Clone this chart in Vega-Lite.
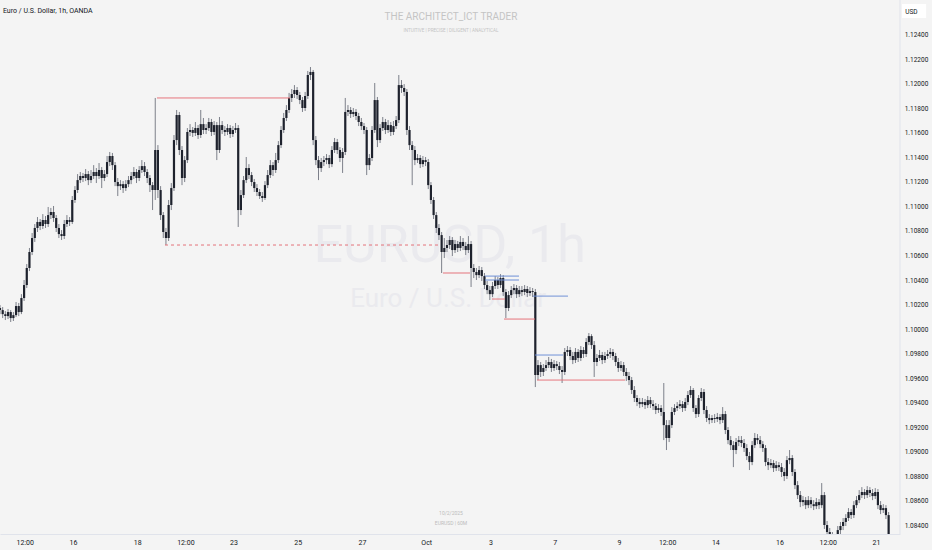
{
"$schema":"https://vega.github.io/schema/vega-lite/v6.json",
"width":900,"height":534,"autosize":"none","padding":{"left":0,"top":0,"right":32,"bottom":16},
"background":"#f4f4f4",
"config":{"view":{"stroke":null},"font":"Roboto"},
"datasets":{
"candles":[
{"t":0,"o":1.10176,"h":1.10200,"l":1.10126,"c":1.10159},
{"t":2,"o":1.10159,"h":1.10184,"l":1.10094,"c":1.10126},
{"t":4,"o":1.10126,"h":1.10151,"l":1.10078,"c":1.10110},
{"t":6,"o":1.10110,"h":1.10168,"l":1.10086,"c":1.10143},
{"t":8,"o":1.10143,"h":1.10159,"l":1.10062,"c":1.10094},
{"t":10,"o":1.10094,"h":1.10143,"l":1.10070,"c":1.10118},
{"t":12,"o":1.10118,"h":1.10225,"l":1.10102,"c":1.10192},
{"t":14,"o":1.10192,"h":1.10217,"l":1.10110,"c":1.10143},
{"t":16,"o":1.10143,"h":1.10289,"l":1.10126,"c":1.10257},
{"t":18,"o":1.10257,"h":1.10404,"l":1.10233,"c":1.10363},
{"t":20,"o":1.10363,"h":1.10534,"l":1.10339,"c":1.10502},
{"t":22,"o":1.10502,"h":1.10665,"l":1.10477,"c":1.10632},
{"t":24,"o":1.10632,"h":1.10787,"l":1.10607,"c":1.10746},
{"t":26,"o":1.10746,"h":1.10860,"l":1.10714,"c":1.10828},
{"t":28,"o":1.10828,"h":1.10917,"l":1.10795,"c":1.10877},
{"t":30,"o":1.10877,"h":1.10901,"l":1.10811,"c":1.10844},
{"t":32,"o":1.10844,"h":1.10941,"l":1.10820,"c":1.10893},
{"t":34,"o":1.10893,"h":1.10925,"l":1.10828,"c":1.10860},
{"t":36,"o":1.10860,"h":1.10999,"l":1.10836,"c":1.10933},
{"t":38,"o":1.10933,"h":1.10991,"l":1.10901,"c":1.10958},
{"t":40,"o":1.10958,"h":1.11007,"l":1.10877,"c":1.10909},
{"t":42,"o":1.10909,"h":1.10933,"l":1.10795,"c":1.10828},
{"t":44,"o":1.10828,"h":1.10860,"l":1.10746,"c":1.10778},
{"t":46,"o":1.10778,"h":1.10811,"l":1.10730,"c":1.10762},
{"t":48,"o":1.10762,"h":1.10893,"l":1.10738,"c":1.10860},
{"t":50,"o":1.10860,"h":1.10933,"l":1.10836,"c":1.10893},
{"t":52,"o":1.10893,"h":1.10917,"l":1.10844,"c":1.10877},
{"t":54,"o":1.10877,"h":1.11088,"l":1.10860,"c":1.11056},
{"t":56,"o":1.11056,"h":1.11169,"l":1.11032,"c":1.11137},
{"t":58,"o":1.11137,"h":1.11267,"l":1.11113,"c":1.11218},
{"t":60,"o":1.11218,"h":1.11284,"l":1.11194,"c":1.11251},
{"t":62,"o":1.11251,"h":1.11276,"l":1.11202,"c":1.11235},
{"t":64,"o":1.11235,"h":1.11308,"l":1.11210,"c":1.11267},
{"t":66,"o":1.11267,"h":1.11292,"l":1.11177,"c":1.11218},
{"t":68,"o":1.11218,"h":1.11300,"l":1.11194,"c":1.11251},
{"t":70,"o":1.11251,"h":1.11340,"l":1.11227,"c":1.11284},
{"t":72,"o":1.11284,"h":1.11316,"l":1.11194,"c":1.11251},
{"t":74,"o":1.11251,"h":1.11357,"l":1.11227,"c":1.11300},
{"t":76,"o":1.11300,"h":1.11324,"l":1.11153,"c":1.11235},
{"t":78,"o":1.11235,"h":1.11300,"l":1.11210,"c":1.11267},
{"t":80,"o":1.11267,"h":1.11414,"l":1.11243,"c":1.11365},
{"t":82,"o":1.11365,"h":1.11447,"l":1.11332,"c":1.11414},
{"t":84,"o":1.11414,"h":1.11439,"l":1.11300,"c":1.11340},
{"t":86,"o":1.11340,"h":1.11365,"l":1.11169,"c":1.11202},
{"t":88,"o":1.11202,"h":1.11235,"l":1.11088,"c":1.11169},
{"t":90,"o":1.11169,"h":1.11218,"l":1.11137,"c":1.11185},
{"t":92,"o":1.11185,"h":1.11210,"l":1.11113,"c":1.11153},
{"t":94,"o":1.11153,"h":1.11218,"l":1.11129,"c":1.11185},
{"t":96,"o":1.11185,"h":1.11251,"l":1.11161,"c":1.11218},
{"t":98,"o":1.11218,"h":1.11284,"l":1.11185,"c":1.11251},
{"t":100,"o":1.11251,"h":1.11324,"l":1.11227,"c":1.11284},
{"t":102,"o":1.11284,"h":1.11308,"l":1.11194,"c":1.11235},
{"t":104,"o":1.11235,"h":1.11332,"l":1.11210,"c":1.11300},
{"t":106,"o":1.11300,"h":1.11381,"l":1.11276,"c":1.11332},
{"t":108,"o":1.11332,"h":1.11365,"l":1.11251,"c":1.11284},
{"t":110,"o":1.11284,"h":1.11308,"l":1.11194,"c":1.11235},
{"t":112,"o":1.11235,"h":1.11259,"l":1.11121,"c":1.11177},
{"t":114,"o":1.11177,"h":1.11202,"l":1.10974,"c":1.11137},
{"t":116,"o":1.11137,"h":1.11887,"l":1.11056,"c":1.11463},
{"t":118,"o":1.11463,"h":1.11503,"l":1.11072,"c":1.11137},
{"t":120,"o":1.11137,"h":1.11169,"l":1.10893,"c":1.10933},
{"t":122,"o":1.10933,"h":1.10958,"l":1.10746,"c":1.10795},
{"t":124,"o":1.10795,"h":1.10828,"l":1.10689,"c":1.10746},
{"t":126,"o":1.10746,"h":1.11056,"l":1.10722,"c":1.11015},
{"t":128,"o":1.11015,"h":1.11194,"l":1.10974,"c":1.11153},
{"t":130,"o":1.11153,"h":1.11585,"l":1.11129,"c":1.11544},
{"t":132,"o":1.11544,"h":1.11789,"l":1.11503,"c":1.11748},
{"t":134,"o":1.11748,"h":1.11773,"l":1.11422,"c":1.11463},
{"t":136,"o":1.11463,"h":1.11495,"l":1.11177,"c":1.11235},
{"t":138,"o":1.11235,"h":1.11414,"l":1.11202,"c":1.11381},
{"t":140,"o":1.11381,"h":1.11642,"l":1.11357,"c":1.11610},
{"t":142,"o":1.11610,"h":1.11674,"l":1.11577,"c":1.11626},
{"t":144,"o":1.11626,"h":1.11650,"l":1.11569,"c":1.11602},
{"t":146,"o":1.11602,"h":1.11691,"l":1.11577,"c":1.11642},
{"t":148,"o":1.11642,"h":1.11666,"l":1.11553,"c":1.11585},
{"t":150,"o":1.11585,"h":1.11789,"l":1.11561,"c":1.11674},
{"t":152,"o":1.11674,"h":1.11724,"l":1.11593,"c":1.11626},
{"t":154,"o":1.11626,"h":1.11674,"l":1.11593,"c":1.11642},
{"t":156,"o":1.11642,"h":1.11724,"l":1.11618,"c":1.11691},
{"t":158,"o":1.11691,"h":1.11716,"l":1.11577,"c":1.11610},
{"t":160,"o":1.11610,"h":1.11699,"l":1.11585,"c":1.11666},
{"t":162,"o":1.11666,"h":1.11691,"l":1.11381,"c":1.11463},
{"t":164,"o":1.11463,"h":1.11732,"l":1.11439,"c":1.11666},
{"t":166,"o":1.11666,"h":1.11699,"l":1.11593,"c":1.11626},
{"t":168,"o":1.11626,"h":1.11658,"l":1.11577,"c":1.11610},
{"t":170,"o":1.11610,"h":1.11674,"l":1.11585,"c":1.11642},
{"t":172,"o":1.11642,"h":1.11666,"l":1.11561,"c":1.11593},
{"t":174,"o":1.11593,"h":1.11658,"l":1.11569,"c":1.11626},
{"t":176,"o":1.11626,"h":1.11683,"l":1.11602,"c":1.11642},
{"t":178,"o":1.11642,"h":1.11666,"l":1.10836,"c":1.10974},
{"t":180,"o":1.10974,"h":1.11137,"l":1.10933,"c":1.11096},
{"t":182,"o":1.11096,"h":1.11251,"l":1.11072,"c":1.11218},
{"t":184,"o":1.11218,"h":1.11406,"l":1.11194,"c":1.11316},
{"t":186,"o":1.11316,"h":1.11348,"l":1.11227,"c":1.11259},
{"t":188,"o":1.11259,"h":1.11284,"l":1.11169,"c":1.11202},
{"t":190,"o":1.11202,"h":1.11227,"l":1.11121,"c":1.11153},
{"t":192,"o":1.11153,"h":1.11185,"l":1.11088,"c":1.11121},
{"t":194,"o":1.11121,"h":1.11145,"l":1.11064,"c":1.11088},
{"t":196,"o":1.11088,"h":1.11121,"l":1.11040,"c":1.11072},
{"t":198,"o":1.11072,"h":1.11210,"l":1.11056,"c":1.11177},
{"t":200,"o":1.11177,"h":1.11300,"l":1.11153,"c":1.11259},
{"t":202,"o":1.11259,"h":1.11381,"l":1.11235,"c":1.11340},
{"t":204,"o":1.11340,"h":1.11365,"l":1.11251,"c":1.11300},
{"t":206,"o":1.11300,"h":1.11439,"l":1.11276,"c":1.11381},
{"t":208,"o":1.11381,"h":1.11536,"l":1.11357,"c":1.11503},
{"t":210,"o":1.11503,"h":1.11658,"l":1.11479,"c":1.11626},
{"t":212,"o":1.11626,"h":1.11765,"l":1.11602,"c":1.11724},
{"t":214,"o":1.11724,"h":1.11829,"l":1.11699,"c":1.11789},
{"t":216,"o":1.11789,"h":1.11928,"l":1.11765,"c":1.11887},
{"t":218,"o":1.11887,"h":1.11960,"l":1.11854,"c":1.11919},
{"t":220,"o":1.11919,"h":1.11992,"l":1.11887,"c":1.11952},
{"t":222,"o":1.11952,"h":1.11976,"l":1.11879,"c":1.11911},
{"t":224,"o":1.11911,"h":1.11936,"l":1.11837,"c":1.11870},
{"t":226,"o":1.11870,"h":1.11895,"l":1.11773,"c":1.11805},
{"t":228,"o":1.11805,"h":1.11936,"l":1.11781,"c":1.11903},
{"t":230,"o":1.11903,"h":1.12107,"l":1.11879,"c":1.12074},
{"t":232,"o":1.12074,"h":1.12139,"l":1.12033,"c":1.12099},
{"t":234,"o":1.12099,"h":1.12115,"l":1.11503,"c":1.11544},
{"t":236,"o":1.11544,"h":1.11577,"l":1.11340,"c":1.11381},
{"t":238,"o":1.11381,"h":1.11414,"l":1.11218,"c":1.11316},
{"t":240,"o":1.11316,"h":1.11398,"l":1.11284,"c":1.11365},
{"t":242,"o":1.11365,"h":1.11414,"l":1.11332,"c":1.11381},
{"t":244,"o":1.11381,"h":1.11430,"l":1.11348,"c":1.11398},
{"t":246,"o":1.11398,"h":1.11422,"l":1.11316,"c":1.11348},
{"t":248,"o":1.11348,"h":1.11495,"l":1.11324,"c":1.11463},
{"t":250,"o":1.11463,"h":1.11561,"l":1.11439,"c":1.11528},
{"t":252,"o":1.11528,"h":1.11553,"l":1.11430,"c":1.11463},
{"t":254,"o":1.11463,"h":1.11487,"l":1.11365,"c":1.11398},
{"t":256,"o":1.11398,"h":1.11479,"l":1.11276,"c":1.11447},
{"t":258,"o":1.11447,"h":1.11887,"l":1.11422,"c":1.11773},
{"t":260,"o":1.11773,"h":1.11829,"l":1.11740,"c":1.11789},
{"t":262,"o":1.11789,"h":1.11813,"l":1.11724,"c":1.11756},
{"t":264,"o":1.11756,"h":1.11805,"l":1.11732,"c":1.11773},
{"t":266,"o":1.11773,"h":1.11797,"l":1.11707,"c":1.11740},
{"t":268,"o":1.11740,"h":1.11765,"l":1.11658,"c":1.11691},
{"t":270,"o":1.11691,"h":1.11724,"l":1.11626,"c":1.11658},
{"t":272,"o":1.11658,"h":1.11683,"l":1.11593,"c":1.11626},
{"t":274,"o":1.11626,"h":1.11650,"l":1.11259,"c":1.11340},
{"t":276,"o":1.11340,"h":1.11430,"l":1.11300,"c":1.11398},
{"t":278,"o":1.11398,"h":1.11658,"l":1.11373,"c":1.11626},
{"t":280,"o":1.11626,"h":1.12009,"l":1.11602,"c":1.11870},
{"t":282,"o":1.11870,"h":1.11895,"l":1.11487,"c":1.11544},
{"t":284,"o":1.11544,"h":1.11674,"l":1.11520,"c":1.11642},
{"t":286,"o":1.11642,"h":1.11732,"l":1.11618,"c":1.11691},
{"t":288,"o":1.11691,"h":1.11716,"l":1.11593,"c":1.11626},
{"t":290,"o":1.11626,"h":1.11707,"l":1.11602,"c":1.11666},
{"t":292,"o":1.11666,"h":1.11691,"l":1.11577,"c":1.11610},
{"t":294,"o":1.11610,"h":1.11699,"l":1.11585,"c":1.11658},
{"t":296,"o":1.11658,"h":1.11740,"l":1.11634,"c":1.11707},
{"t":298,"o":1.11707,"h":1.12074,"l":1.11683,"c":1.11992},
{"t":300,"o":1.11992,"h":1.12033,"l":1.11928,"c":1.11968},
{"t":302,"o":1.11968,"h":1.12000,"l":1.11903,"c":1.11936},
{"t":304,"o":1.11936,"h":1.11960,"l":1.11585,"c":1.11626},
{"t":306,"o":1.11626,"h":1.11658,"l":1.11463,"c":1.11503},
{"t":308,"o":1.11503,"h":1.11536,"l":1.11177,"c":1.11463},
{"t":310,"o":1.11463,"h":1.11495,"l":1.11340,"c":1.11381},
{"t":312,"o":1.11381,"h":1.11430,"l":1.11357,"c":1.11398},
{"t":314,"o":1.11398,"h":1.11422,"l":1.11316,"c":1.11348},
{"t":316,"o":1.11348,"h":1.11414,"l":1.11324,"c":1.11381},
{"t":318,"o":1.11381,"h":1.11406,"l":1.11332,"c":1.11365},
{"t":320,"o":1.11365,"h":1.11390,"l":1.11145,"c":1.11177},
{"t":322,"o":1.11177,"h":1.11202,"l":1.11023,"c":1.11056},
{"t":324,"o":1.11056,"h":1.11080,"l":1.10901,"c":1.10933},
{"t":326,"o":1.10933,"h":1.10958,"l":1.10787,"c":1.10828},
{"t":328,"o":1.10828,"h":1.10860,"l":1.10730,"c":1.10770},
{"t":330,"o":1.10770,"h":1.10795,"l":1.10461,"c":1.10632},
{"t":332,"o":1.10632,"h":1.10746,"l":1.10583,"c":1.10665},
{"t":334,"o":1.10665,"h":1.10730,"l":1.10632,"c":1.10689},
{"t":336,"o":1.10689,"h":1.10762,"l":1.10657,"c":1.10730},
{"t":338,"o":1.10730,"h":1.10754,"l":1.10599,"c":1.10648},
{"t":340,"o":1.10648,"h":1.10730,"l":1.10624,"c":1.10697},
{"t":342,"o":1.10697,"h":1.10722,"l":1.10632,"c":1.10665},
{"t":344,"o":1.10665,"h":1.10762,"l":1.10640,"c":1.10714},
{"t":346,"o":1.10714,"h":1.10746,"l":1.10648,"c":1.10681},
{"t":348,"o":1.10681,"h":1.10714,"l":1.10607,"c":1.10648},
{"t":350,"o":1.10648,"h":1.10762,"l":1.10624,"c":1.10697},
{"t":352,"o":1.10697,"h":1.10722,"l":1.10347,"c":1.10502},
{"t":354,"o":1.10502,"h":1.10534,"l":1.10420,"c":1.10469},
{"t":356,"o":1.10469,"h":1.10502,"l":1.10404,"c":1.10444},
{"t":358,"o":1.10444,"h":1.10518,"l":1.10420,"c":1.10485},
{"t":360,"o":1.10485,"h":1.10510,"l":1.10396,"c":1.10436},
{"t":362,"o":1.10436,"h":1.10461,"l":1.10331,"c":1.10363},
{"t":364,"o":1.10363,"h":1.10396,"l":1.10289,"c":1.10322},
{"t":366,"o":1.10322,"h":1.10355,"l":1.10241,"c":1.10289},
{"t":368,"o":1.10289,"h":1.10388,"l":1.10265,"c":1.10355},
{"t":370,"o":1.10355,"h":1.10436,"l":1.10331,"c":1.10404},
{"t":372,"o":1.10404,"h":1.10428,"l":1.10331,"c":1.10363},
{"t":374,"o":1.10363,"h":1.10452,"l":1.10339,"c":1.10420},
{"t":376,"o":1.10420,"h":1.10444,"l":1.10273,"c":1.10306},
{"t":378,"o":1.10306,"h":1.10331,"l":1.10094,"c":1.10176},
{"t":380,"o":1.10176,"h":1.10314,"l":1.10151,"c":1.10281},
{"t":382,"o":1.10281,"h":1.10355,"l":1.10257,"c":1.10322},
{"t":384,"o":1.10322,"h":1.10371,"l":1.10289,"c":1.10339},
{"t":386,"o":1.10339,"h":1.10363,"l":1.10257,"c":1.10289},
{"t":388,"o":1.10289,"h":1.10355,"l":1.10265,"c":1.10322},
{"t":390,"o":1.10322,"h":1.10355,"l":1.10273,"c":1.10306},
{"t":392,"o":1.10306,"h":1.10363,"l":1.10281,"c":1.10331},
{"t":394,"o":1.10331,"h":1.10355,"l":1.10265,"c":1.10298},
{"t":396,"o":1.10298,"h":1.10347,"l":1.10273,"c":1.10314},
{"t":398,"o":1.10314,"h":1.10339,"l":1.10265,"c":1.10306},
{"t":400,"o":1.10306,"h":1.10331,"l":1.09532,"c":1.09630},
{"t":402,"o":1.09630,"h":1.09752,"l":1.09589,"c":1.09711},
{"t":404,"o":1.09711,"h":1.09736,"l":1.09614,"c":1.09655},
{"t":406,"o":1.09655,"h":1.09719,"l":1.09622,"c":1.09687},
{"t":408,"o":1.09687,"h":1.09752,"l":1.09663,"c":1.09711},
{"t":410,"o":1.09711,"h":1.09777,"l":1.09687,"c":1.09736},
{"t":412,"o":1.09736,"h":1.09761,"l":1.09655,"c":1.09687},
{"t":414,"o":1.09687,"h":1.09752,"l":1.09663,"c":1.09719},
{"t":416,"o":1.09719,"h":1.09744,"l":1.09671,"c":1.09703},
{"t":418,"o":1.09703,"h":1.09736,"l":1.09638,"c":1.09671},
{"t":420,"o":1.09671,"h":1.09703,"l":1.09565,"c":1.09655},
{"t":422,"o":1.09655,"h":1.09850,"l":1.09630,"c":1.09818},
{"t":424,"o":1.09818,"h":1.09866,"l":1.09785,"c":1.09834},
{"t":426,"o":1.09834,"h":1.09858,"l":1.09752,"c":1.09785},
{"t":428,"o":1.09785,"h":1.09818,"l":1.09719,"c":1.09752},
{"t":430,"o":1.09752,"h":1.09850,"l":1.09728,"c":1.09818},
{"t":432,"o":1.09818,"h":1.09842,"l":1.09736,"c":1.09769},
{"t":434,"o":1.09769,"h":1.09866,"l":1.09744,"c":1.09834},
{"t":436,"o":1.09834,"h":1.09858,"l":1.09769,"c":1.09801},
{"t":438,"o":1.09801,"h":1.09931,"l":1.09777,"c":1.09899},
{"t":440,"o":1.09899,"h":1.09972,"l":1.09874,"c":1.09947},
{"t":442,"o":1.09947,"h":1.09963,"l":1.09842,"c":1.09874},
{"t":444,"o":1.09874,"h":1.09907,"l":1.09614,"c":1.09736},
{"t":446,"o":1.09736,"h":1.09801,"l":1.09703,"c":1.09769},
{"t":448,"o":1.09769,"h":1.09834,"l":1.09744,"c":1.09793},
{"t":450,"o":1.09793,"h":1.09818,"l":1.09719,"c":1.09752},
{"t":452,"o":1.09752,"h":1.09818,"l":1.09728,"c":1.09785},
{"t":454,"o":1.09785,"h":1.09834,"l":1.09761,"c":1.09801},
{"t":456,"o":1.09801,"h":1.09850,"l":1.09769,"c":1.09818},
{"t":458,"o":1.09818,"h":1.09842,"l":1.09752,"c":1.09785},
{"t":460,"o":1.09785,"h":1.09810,"l":1.09703,"c":1.09736},
{"t":462,"o":1.09736,"h":1.09769,"l":1.09655,"c":1.09687},
{"t":464,"o":1.09687,"h":1.09744,"l":1.09663,"c":1.09711},
{"t":466,"o":1.09711,"h":1.09736,"l":1.09622,"c":1.09655},
{"t":468,"o":1.09655,"h":1.09687,"l":1.09581,"c":1.09622},
{"t":470,"o":1.09622,"h":1.09655,"l":1.09548,"c":1.09589},
{"t":472,"o":1.09589,"h":1.09614,"l":1.09475,"c":1.09508},
{"t":474,"o":1.09508,"h":1.09540,"l":1.09410,"c":1.09443},
{"t":476,"o":1.09443,"h":1.09467,"l":1.09377,"c":1.09410},
{"t":478,"o":1.09410,"h":1.09443,"l":1.09361,"c":1.09393},
{"t":480,"o":1.09393,"h":1.09443,"l":1.09369,"c":1.09410},
{"t":482,"o":1.09410,"h":1.09435,"l":1.09353,"c":1.09385},
{"t":484,"o":1.09385,"h":1.09459,"l":1.09361,"c":1.09426},
{"t":486,"o":1.09426,"h":1.09451,"l":1.09361,"c":1.09393},
{"t":488,"o":1.09393,"h":1.09426,"l":1.09345,"c":1.09377},
{"t":490,"o":1.09377,"h":1.09402,"l":1.09312,"c":1.09345},
{"t":492,"o":1.09345,"h":1.09393,"l":1.09321,"c":1.09361},
{"t":494,"o":1.09361,"h":1.09385,"l":1.09296,"c":1.09329},
{"t":496,"o":1.09329,"h":1.09565,"l":1.09100,"c":1.09222},
{"t":498,"o":1.09222,"h":1.09263,"l":1.09019,"c":1.09117},
{"t":500,"o":1.09117,"h":1.09263,"l":1.09084,"c":1.09222},
{"t":502,"o":1.09222,"h":1.09369,"l":1.09198,"c":1.09329},
{"t":504,"o":1.09329,"h":1.09393,"l":1.09304,"c":1.09361},
{"t":506,"o":1.09361,"h":1.09410,"l":1.09337,"c":1.09377},
{"t":508,"o":1.09377,"h":1.09426,"l":1.09353,"c":1.09393},
{"t":510,"o":1.09393,"h":1.09418,"l":1.09329,"c":1.09361},
{"t":512,"o":1.09361,"h":1.09443,"l":1.09337,"c":1.09410},
{"t":514,"o":1.09410,"h":1.09500,"l":1.09385,"c":1.09467},
{"t":516,"o":1.09467,"h":1.09540,"l":1.09443,"c":1.09508},
{"t":518,"o":1.09508,"h":1.09524,"l":1.09329,"c":1.09361},
{"t":520,"o":1.09361,"h":1.09385,"l":1.09280,"c":1.09312},
{"t":522,"o":1.09312,"h":1.09467,"l":1.09288,"c":1.09443},
{"t":524,"o":1.09443,"h":1.09524,"l":1.09418,"c":1.09492},
{"t":526,"o":1.09492,"h":1.09516,"l":1.09312,"c":1.09345},
{"t":528,"o":1.09345,"h":1.09377,"l":1.09247,"c":1.09280},
{"t":530,"o":1.09280,"h":1.09312,"l":1.09230,"c":1.09263},
{"t":532,"o":1.09263,"h":1.09304,"l":1.09239,"c":1.09280},
{"t":534,"o":1.09280,"h":1.09312,"l":1.09239,"c":1.09272},
{"t":536,"o":1.09272,"h":1.09321,"l":1.09247,"c":1.09288},
{"t":538,"o":1.09288,"h":1.09312,"l":1.09230,"c":1.09263},
{"t":540,"o":1.09263,"h":1.09369,"l":1.09239,"c":1.09312},
{"t":542,"o":1.09312,"h":1.09337,"l":1.09149,"c":1.09182},
{"t":544,"o":1.09182,"h":1.09206,"l":1.09067,"c":1.09100},
{"t":546,"o":1.09100,"h":1.09133,"l":1.09019,"c":1.09059},
{"t":548,"o":1.09059,"h":1.09092,"l":1.08880,"c":1.09019},
{"t":550,"o":1.09019,"h":1.09117,"l":1.08986,"c":1.09084},
{"t":552,"o":1.09084,"h":1.09133,"l":1.09051,"c":1.09100},
{"t":554,"o":1.09100,"h":1.09133,"l":1.09043,"c":1.09076},
{"t":556,"o":1.09076,"h":1.09109,"l":1.09003,"c":1.09035},
{"t":558,"o":1.09035,"h":1.09067,"l":1.08937,"c":1.08970},
{"t":560,"o":1.08970,"h":1.09003,"l":1.08856,"c":1.08921},
{"t":562,"o":1.08921,"h":1.09092,"l":1.08896,"c":1.09059},
{"t":564,"o":1.09059,"h":1.09158,"l":1.09035,"c":1.09117},
{"t":566,"o":1.09117,"h":1.09149,"l":1.09067,"c":1.09100},
{"t":568,"o":1.09100,"h":1.09133,"l":1.09035,"c":1.09067},
{"t":570,"o":1.09067,"h":1.09092,"l":1.09003,"c":1.09035},
{"t":572,"o":1.09035,"h":1.09059,"l":1.08888,"c":1.08921},
{"t":574,"o":1.08921,"h":1.08954,"l":1.08856,"c":1.08896},
{"t":576,"o":1.08896,"h":1.08946,"l":1.08872,"c":1.08913},
{"t":578,"o":1.08913,"h":1.08937,"l":1.08840,"c":1.08872},
{"t":580,"o":1.08872,"h":1.08929,"l":1.08848,"c":1.08896},
{"t":582,"o":1.08896,"h":1.08921,"l":1.08848,"c":1.08880},
{"t":584,"o":1.08880,"h":1.08913,"l":1.08799,"c":1.08840},
{"t":586,"o":1.08840,"h":1.08872,"l":1.08766,"c":1.08807},
{"t":588,"o":1.08807,"h":1.08970,"l":1.08783,"c":1.08937},
{"t":590,"o":1.08937,"h":1.09019,"l":1.08904,"c":1.08954},
{"t":592,"o":1.08954,"h":1.08978,"l":1.08807,"c":1.08840},
{"t":594,"o":1.08840,"h":1.08864,"l":1.08701,"c":1.08733},
{"t":596,"o":1.08733,"h":1.08766,"l":1.08620,"c":1.08652},
{"t":598,"o":1.08652,"h":1.08685,"l":1.08554,"c":1.08595},
{"t":600,"o":1.08595,"h":1.08644,"l":1.08562,"c":1.08611},
{"t":602,"o":1.08611,"h":1.08636,"l":1.08538,"c":1.08570},
{"t":604,"o":1.08570,"h":1.08644,"l":1.08546,"c":1.08611},
{"t":606,"o":1.08611,"h":1.08636,"l":1.08546,"c":1.08578},
{"t":608,"o":1.08578,"h":1.08611,"l":1.08530,"c":1.08562},
{"t":610,"o":1.08562,"h":1.08628,"l":1.08538,"c":1.08595},
{"t":612,"o":1.08595,"h":1.08620,"l":1.08538,"c":1.08570},
{"t":614,"o":1.08570,"h":1.08750,"l":1.08546,"c":1.08652},
{"t":616,"o":1.08652,"h":1.08677,"l":1.08376,"c":1.08408},
{"t":618,"o":1.08408,"h":1.08441,"l":1.08310,"c":1.08351},
{"t":620,"o":1.08351,"h":1.08384,"l":1.08270,"c":1.08318},
{"t":622,"o":1.08318,"h":1.08351,"l":1.08245,"c":1.08286},
{"t":624,"o":1.08286,"h":1.08334,"l":1.08253,"c":1.08302},
{"t":626,"o":1.08302,"h":1.08400,"l":1.08278,"c":1.08367},
{"t":628,"o":1.08367,"h":1.08433,"l":1.08334,"c":1.08400},
{"t":630,"o":1.08400,"h":1.08465,"l":1.08367,"c":1.08433},
{"t":632,"o":1.08433,"h":1.08497,"l":1.08400,"c":1.08465},
{"t":634,"o":1.08465,"h":1.08546,"l":1.08441,"c":1.08514},
{"t":636,"o":1.08514,"h":1.08538,"l":1.08457,"c":1.08489},
{"t":638,"o":1.08489,"h":1.08603,"l":1.08465,"c":1.08570},
{"t":640,"o":1.08570,"h":1.08644,"l":1.08546,"c":1.08611},
{"t":642,"o":1.08611,"h":1.08693,"l":1.08587,"c":1.08652},
{"t":644,"o":1.08652,"h":1.08717,"l":1.08628,"c":1.08677},
{"t":646,"o":1.08677,"h":1.08701,"l":1.08620,"c":1.08652},
{"t":648,"o":1.08652,"h":1.08725,"l":1.08628,"c":1.08693},
{"t":650,"o":1.08693,"h":1.08717,"l":1.08636,"c":1.08669},
{"t":652,"o":1.08669,"h":1.08701,"l":1.08611,"c":1.08644},
{"t":654,"o":1.08644,"h":1.08709,"l":1.08620,"c":1.08677},
{"t":656,"o":1.08677,"h":1.08701,"l":1.08538,"c":1.08570},
{"t":658,"o":1.08570,"h":1.08603,"l":1.08497,"c":1.08530},
{"t":660,"o":1.08530,"h":1.08578,"l":1.08506,"c":1.08546},
{"t":662,"o":1.08546,"h":1.08570,"l":1.08457,"c":1.08489},
{"t":664,"o":1.08489,"h":1.08514,"l":1.08286,"c":1.08326}
],
"levels":[
{"t":117.3,"t2":216.7,"p":1.11887,"kind":"red"},
{"t":123.3,"t2":328.8,"p":1.10689,"kind":"reddash"},
{"t":331.0,"t2":351.2,"p":1.10461,"kind":"red"},
{"t":362.4,"t2":387.8,"p":1.10436,"kind":"blue"},
{"t":362.4,"t2":387.8,"p":1.10404,"kind":"blue"},
{"t":367.6,"t2":377.3,"p":1.10249,"kind":"red"},
{"t":376.6,"t2":399.8,"p":1.10086,"kind":"red"},
{"t":398.3,"t2":424.4,"p":1.10273,"kind":"blue"},
{"t":399.8,"t2":420.7,"p":1.09793,"kind":"blue"},
{"t":401.3,"t2":467.0,"p":1.09589,"kind":"red"}
],
"priceticks":[
{"t":676,"p":1.084},{"t":676,"p":1.086},{"t":676,"p":1.088},{"t":676,"p":1.090},{"t":676,"p":1.092},{"t":676,"p":1.094},{"t":676,"p":1.096},{"t":676,"p":1.098},{"t":676,"p":1.100},{"t":676,"p":1.102},{"t":676,"p":1.104},{"t":676,"p":1.106},{"t":676,"p":1.108},{"t":676,"p":1.110},{"t":676,"p":1.112},{"t":676,"p":1.114},{"t":676,"p":1.116},{"t":676,"p":1.118},{"t":676,"p":1.120},{"t":676,"p":1.122},{"t":676,"p":1.124}
]
},
"encoding":{
"x":{"field":"t","type":"quantitative","scale":{"domain":[0,672.5],"nice":false,"zero":false,"padding":0},
"axis":{"values":[18.5,54.5,102.5,138.5,174.5,222.5,270.5,318.5,366.5,414.5,462.5,498.5,534.5,582.5,618.5,654.5],
"labelExpr":"datum.value == 18.5 ? '12:00' : datum.value == 54.5 ? '16' : datum.value == 102.5 ? '18' : datum.value == 138.5 ? '12:00' : datum.value == 174.5 ? '23' : datum.value == 222.5 ? '25' : datum.value == 270.5 ? '27' : datum.value == 318.5 ? 'Oct' : datum.value == 366.5 ? '3' : datum.value == 414.5 ? '7' : datum.value == 462.5 ? '9' : datum.value == 498.5 ? '12:00' : datum.value == 534.5 ? '14' : datum.value == 582.5 ? '16' : datum.value == 618.5 ? '12:00' : '21'",
"grid":false,"ticks":false,"domainColor":"#e0e3eb","labelFontSize":7,"labelColor":"#131722","labelPadding":4,"title":null,"labelOverlap":false,"labelFlush":false}},
"y":{"field":"p","type":"quantitative","scale":{"domain":[1.08335,1.12685],"nice":false,"zero":false,"padding":0},"axis":null}
},
"layer":[
{"data":{"values":[{"t":336,"p":1.10551,"txt":"EURUSD, 1h"}]},
 "mark":{"type":"text","align":"center","baseline":"alphabetic","fontSize":52,"color":"#eaeaee","font":"Roboto"},
 "encoding":{"text":{"field":"txt"}}},
{"data":{"values":[{"t":334.8,"p":1.10184,"txt":"Euro / U.S. Dollar"}]},
 "mark":{"type":"text","align":"center","baseline":"alphabetic","fontSize":26,"color":"#eaeaee","font":"Roboto"},
 "encoding":{"text":{"field":"txt"}}},
{"data":{"values":[{"t":337,"p":1.12522,"txt":"THE ARCHITECT_ICT TRADER"}]},
 "mark":{"type":"text","align":"center","baseline":"alphabetic","fontSize":10,"color":"#c4c4c4","font":"Roboto"},
 "encoding":{"text":{"field":"txt"}}},
{"data":{"values":[{"t":337,"p":1.12424,"txt":"INTUITIVE | PRECISE | DILIGENT | ANALYTICAL"}]},
 "mark":{"type":"text","align":"center","baseline":"alphabetic","fontSize":4.6,"color":"#c4c4c4","font":"Roboto"},
 "encoding":{"text":{"field":"txt"}}},
{"data":{"values":[{"t":337,"p":1.08489,"txt":"10/2/2025"},{"t":337,"p":1.08408,"txt":"EURUSD | 60M"}]},
 "mark":{"type":"text","align":"center","baseline":"alphabetic","fontSize":5,"color":"#bcbcbc","font":"Roboto"},
 "encoding":{"text":{"field":"txt"}}},
{"data":{"values":[{"t":2.2,"p":1.12579,"txt":"Euro / U.S. Dollar, 1h, OANDA"}]},
 "mark":{"type":"text","align":"left","baseline":"alphabetic","fontSize":7,"color":"#131722","font":"Roboto"},
 "encoding":{"text":{"field":"txt"}}},
{"data":{"name":"candles"},
 "mark":{"type":"rule","clip":true,"color":"#7d808a","strokeWidth":1},
 "encoding":{"y":{"field":"l","type":"quantitative","axis":null},"y2":{"field":"h"}}},
{"data":{"name":"candles"},
 "mark":{"type":"bar","clip":true,"color":"#1e222d","width":2.2},
 "encoding":{"y":{"field":"o","type":"quantitative","axis":null},"y2":{"field":"c"}}},
{"data":{"name":"levels"},
 "mark":{"type":"rule","strokeWidth":1},
 "encoding":{"x2":{"field":"t2"},
  "color":{"field":"kind","type":"nominal","scale":{"domain":["red","reddash","blue"],"range":["#e5737b","#e5737b","#6d8fd6"]},"legend":null},
  "strokeDash":{"field":"kind","type":"nominal","scale":{"domain":["red","reddash","blue"],"range":[[1,0],[3,3],[1,0]]},"legend":null}}},
{"data":{"values":[{"t":672.5}]},
 "mark":{"type":"rule","color":"#e0e3eb","strokeWidth":1},
 "encoding":{"y":null}},
{"data":{"name":"priceticks"},
 "mark":{"type":"text","align":"left","baseline":"middle","fontSize":6.5,"color":"#131722","font":"Roboto"},
 "encoding":{"text":{"field":"p","type":"quantitative","format":".5f"}}},
{"data":{"values":[{"t":674,"t2":692,"p":1.12652,"p2":1.12538}]},
 "mark":{"type":"rect","color":"#ffffff"},
 "encoding":{"x2":{"field":"t2"},"y2":{"field":"p2"}}},
{"data":{"values":[{"t":681,"p":1.12571,"txt":"USD"}]},
 "mark":{"type":"text","align":"center","baseline":"alphabetic","fontSize":6.5,"color":"#131722","font":"Roboto"},
 "encoding":{"text":{"field":"txt"}}}
]
}
